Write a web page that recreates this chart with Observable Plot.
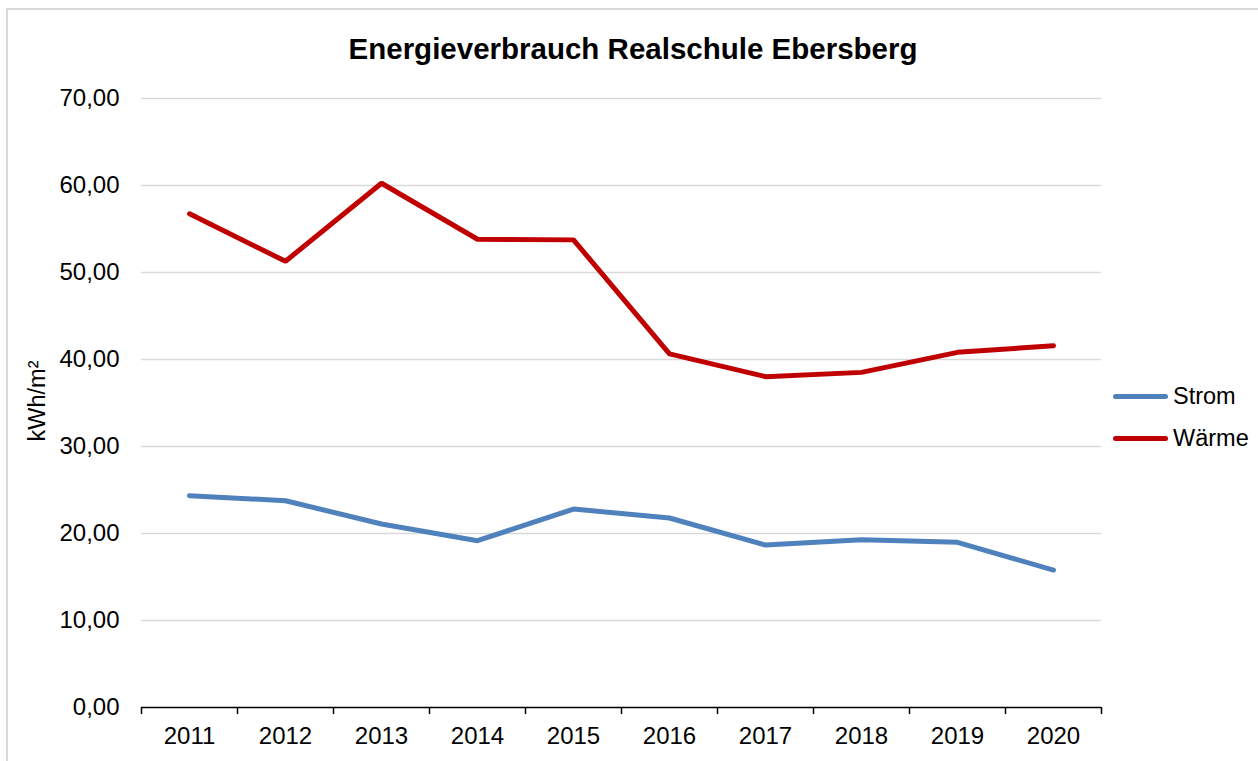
<!DOCTYPE html>
<html><head><meta charset="utf-8">
<script src="https://cdn.jsdelivr.net/npm/d3@7"></script>
<script src="https://cdn.jsdelivr.net/npm/@observablehq/plot@0.6"></script>
<style>
body{margin:0;background:#fff;font-family:"Liberation Sans",Arial,sans-serif;color:#000;}
#wrap{position:relative;width:1258px;height:761px;overflow:hidden;background:#fff;}
#frame{position:absolute;left:6px;top:8px;width:1300px;height:800px;border:2px solid #d9d9d9;box-sizing:border-box;}
#chart{position:absolute;left:0;top:0;}
#title{position:absolute;top:34px;left:0;width:1266px;text-align:center;font-weight:bold;font-size:29.5px;line-height:29.5px;white-space:nowrap;}
#ylabel{position:absolute;left:38px;top:401px;transform:translate(-50%,-50%) rotate(-90deg);font-size:23.5px;line-height:23.5px;white-space:nowrap;}
#legend{position:absolute;left:1113px;top:375px;font-size:23.5px;}
.item{display:flex;align-items:center;height:42px;}
.sw{width:55px;height:5px;border-radius:3px;margin-right:5px;}
</style>
</head><body>
<div id="wrap">
  <div id="frame"></div>
  <div id="chart"></div>
  <div id="title"></div>
  <div id="ylabel"></div>
  <div id="legend"></div>
</div>
<script>
const chartTitle = "Energieverbrauch Realschule Ebersberg";
const yLabel = "kWh/m²";
const years = [2011, 2012, 2013, 2014, 2015, 2016, 2017, 2018, 2019, 2020];
const seriesNames = ["Strom", "Wärme"];
const seriesColors = ["#4f81bd", "#c00000"];
const strom  = [24.34, 23.77, 21.09, 19.17, 22.81, 21.78, 18.67, 19.28, 18.98, 15.80];
const waerme = [56.74, 51.29, 60.26, 53.82, 53.75, 40.64, 38.03, 38.52, 40.82, 41.59];
const yTicks = [0, 10, 20, 30, 40, 50, 60, 70];

const data = years.flatMap((yr, i) => [
  {year: yr, value: strom[i], series: seriesNames[0]},
  {year: yr, value: waerme[i], series: seriesNames[1]}
]);
// category boundaries for the x tick marks
const boundaries = [years[0] - 0.5, ...years.map(y => y + 0.5)];

const fmt = d => d.toFixed(2).replace(".", ",");

const plot = Plot.plot({
  width: 1258,
  height: 761,
  marginLeft: 141,
  marginRight: 157,
  marginTop: 98,
  marginBottom: 54,
  style: {fontFamily: '"Liberation Sans", Arial, sans-serif', fontSize: "24px", color: "#000", background: "transparent"},
  x: {domain: [years[0] - 0.5, years[years.length - 1] + 0.5]},
  y: {domain: [yTicks[0], yTicks[yTicks.length - 1]]},
  color: {domain: seriesNames, range: seriesColors},
  marks: [
    Plot.ruleY(yTicks.filter(d => d > 0), {stroke: "#d9d9d9", strokeWidth: 1.5}),
    Plot.axisY({ticks: yTicks, tickSize: 0, tickPadding: 22, tickFormat: fmt, label: null}),
    Plot.axisX({ticks: boundaries, tickSize: 7, tickFormat: () => "", label: null, stroke: "#000", strokeWidth: 1.5}),
    Plot.axisX({ticks: years, tickSize: 0, tickPadding: 19, tickFormat: d => String(d), label: null}),
    Plot.ruleY([0], {stroke: "#000", strokeWidth: 1.5}),
    Plot.line(data, {x: "year", y: "value", stroke: "series", z: "series", strokeWidth: 5, strokeLinecap: "round", strokeLinejoin: "miter"})
  ]
});
document.getElementById("chart").appendChild(plot);
document.getElementById("title").textContent = chartTitle;
document.getElementById("ylabel").textContent = yLabel;
const legend = document.getElementById("legend");
seriesNames.forEach((name, i) => {
  const it = document.createElement("div");
  it.className = "item";
  const sw = document.createElement("div");
  sw.className = "sw";
  sw.style.background = seriesColors[i];
  const t = document.createElement("span");
  t.textContent = name;
  it.appendChild(sw); it.appendChild(t);
  legend.appendChild(it);
});
</script>
</body></html>
